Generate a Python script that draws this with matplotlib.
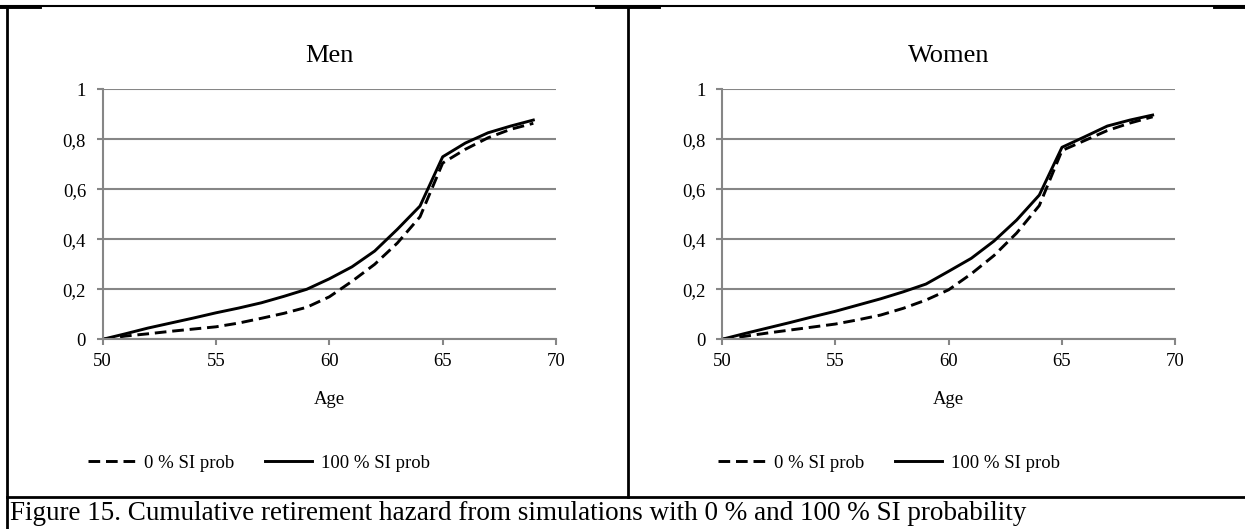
import matplotlib.pyplot as plt
from matplotlib.lines import Line2D

plt.rcParams['font.family'] = ['Liberation Serif', 'DejaVu Serif']

ages = list(range(50, 70))

# cumulative retirement hazard, men
men_0 = [0.0, 0.013, 0.022, 0.032, 0.041, 0.050, 0.065, 0.084, 0.104, 0.128,
         0.170, 0.232, 0.300, 0.385, 0.490, 0.705, 0.760, 0.806, 0.840, 0.864]
men_100 = [0.0, 0.022, 0.045, 0.065, 0.085, 0.106, 0.125, 0.146, 0.172, 0.200,
           0.242, 0.290, 0.353, 0.440, 0.533, 0.730, 0.785, 0.826, 0.853, 0.877]

# cumulative retirement hazard, women
women_0 = [0.0, 0.012, 0.025, 0.037, 0.049, 0.061, 0.078, 0.097, 0.124, 0.157,
           0.198, 0.262, 0.335, 0.425, 0.535, 0.755, 0.795, 0.835, 0.865, 0.890]
women_100 = [0.0, 0.023, 0.045, 0.067, 0.090, 0.112, 0.137, 0.162, 0.190, 0.221,
             0.272, 0.324, 0.393, 0.477, 0.577, 0.768, 0.810, 0.853, 0.877, 0.897]

panels = [("Men", men_0, men_100), ("Women", women_0, women_100)]
series_labels = ["0 % SI prob", "100 % SI prob"]
yticks = [0, 0.2, 0.4, 0.6, 0.8, 1]
ytick_labels = ["0", "0,2", "0,4", "0,6", "0,8", "1"]
xticks = [50, 55, 60, 65, 70]
caption = ("Figure 15. Cumulative retirement hazard from simulations "
           "with 0 % and 100 % SI probability")

W, H = 1245, 529
fig = plt.figure(figsize=(W / 100, H / 100), dpi=100)

grey = "#868686"
axes_left = [102.7, 722.0]
legend_x = [259, 889]

for i, (title, s0, s100) in enumerate(panels):
    ax = fig.add_axes([axes_left[i] / W, 1 - 339.3 / H, 453.3 / W, 250 / H])
    ax.plot(ages, s0, color="black", lw=2.1, linestyle=(0, (4, 2)),
            label=series_labels[0])
    ax.plot(ages, s100, color="black", lw=2.1, label=series_labels[1])
    ax.set_xlim(50, 70)
    ax.set_ylim(0, 1)
    ax.set_xticks(xticks)
    ax.set_yticks(yticks)
    ax.set_yticklabels(ytick_labels)
    ax.yaxis.grid(True, color=grey, lw=1.5)
    ax.set_axisbelow(True)
    for side in ["top", "right"]:
        ax.spines[side].set_visible(False)
    for side in ["left", "bottom"]:
        ax.spines[side].set_color(grey)
        ax.spines[side].set_linewidth(1.5)
    ax.tick_params(axis="both", colors=grey, width=1.5, length=4,
                   labelcolor="black", labelsize=13.5)
    ax.tick_params(axis="y", pad=8)
    ax.tick_params(axis="x", pad=6)
    ax.set_title(title, fontsize=19, pad=20)
    ax.set_xlabel("Age", fontsize=13.5, labelpad=15)
    fig.legend(*ax.get_legend_handles_labels(), loc="center",
               bbox_to_anchor=(legend_x[i] / W, 1 - 463 / H), ncol=2,
               frameon=False, fontsize=13.5, handlelength=2.5,
               handletextpad=0.5, columnspacing=1.6)

# table borders round the two panels
def rule(x0, y0, x1, y1, lw):
    fig.add_artist(Line2D([x0 / W, x1 / W], [1 - y0 / H, 1 - y1 / H],
                          color="black", lw=lw, transform=fig.transFigure))

rule(0, 6, W, 6, 1.5)
rule(0, 7, 40, 7, 2.8)
rule(597, 7, 659, 7, 2.8)
rule(1215, 7, W, 7, 2.8)
rule(7, 6, 7, H, 2.0)
rule(628, 6, 628, 497, 2.0)
rule(7, 497, W, 497, 2.0)

fig.text(10 / W, 1 - 514 / H, caption, fontsize=19.5, va="center", ha="left")

fig.savefig("out.png", dpi=100)
